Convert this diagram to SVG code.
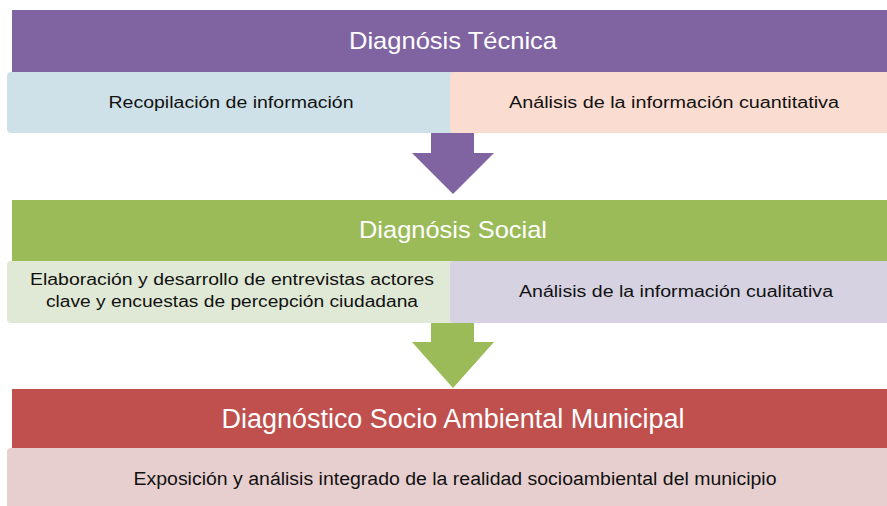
<svg xmlns="http://www.w3.org/2000/svg" width="887" height="506" viewBox="0 0 887 506">
<style>
.hdr{font-family:"Liberation Sans","Open Sans",sans-serif;font-size:24px;fill:#ffffff;text-anchor:middle}
.sub{font-family:"Liberation Sans","Open Sans",sans-serif;font-size:16px;fill:#111111;text-anchor:middle}
</style>
<rect width="887" height="506" fill="#ffffff"/>
<g id="tecnica">
<rect x="12" y="10" width="880" height="62" fill="#8064A2"/>
<text class="hdr" x="453" y="49" textLength="208" lengthAdjust="spacingAndGlyphs">Diagnósis Técnica</text>
</g>
<g id="recopilacion">
<rect x="7" y="72" width="452" height="61" rx="4" fill="#CFE1E8"/>
<text class="sub" x="231" y="108" textLength="245" lengthAdjust="spacingAndGlyphs">Recopilación de información</text>
</g>
<g id="analisis-cuant">
<rect x="450" y="72" width="445" height="61" rx="4" fill="#FBDCD0"/>
<text class="sub" x="674" y="108" textLength="330" lengthAdjust="spacingAndGlyphs">Análisis de la información cuantitativa</text>
</g>
<g id="social">
<rect x="12" y="200" width="880" height="61" fill="#9BBB59"/>
<text class="hdr" x="453" y="238" textLength="188" lengthAdjust="spacingAndGlyphs">Diagnósis Social</text>
</g>
<g id="entrevistas">
<rect x="7" y="261" width="452" height="62" rx="4" fill="#E0E9D5"/>
<text class="sub" x="232" y="285" textLength="404" lengthAdjust="spacingAndGlyphs">Elaboración y desarrollo de entrevistas actores</text>
<text class="sub" x="232" y="307" textLength="372" lengthAdjust="spacingAndGlyphs">clave y encuestas de percepción ciudadana</text>
</g>
<g id="analisis-cual">
<rect x="450" y="261" width="445" height="62" rx="4" fill="#D6D2E2"/>
<text class="sub" x="676" y="297" textLength="314" lengthAdjust="spacingAndGlyphs">Análisis de la información cualitativa</text>
</g>
<g id="municipal">
<rect x="12" y="389" width="880" height="59" fill="#C0504D"/>
<text class="hdr" x="453" y="428" style="font-size:27px" textLength="463" lengthAdjust="spacingAndGlyphs">Diagnóstico Socio Ambiental Municipal</text>
</g>
<g id="exposicion">
<rect x="7" y="448" width="888" height="62" rx="4" fill="#E7CFCF"/>
<text class="sub" x="455" y="485" style="font-size:18px" textLength="643" lengthAdjust="spacingAndGlyphs">Exposición y análisis integrado de la realidad socioambiental del municipio</text>
</g>
<g id="connectors">
<polygon points="431,133 474,133 474,153 494,153 453,194 412,153 431,153" fill="#8064A2"/>
<polygon points="431,323 474,323 474,342 494,342 453,388 412,342 431,342" fill="#9BBB59"/>
</g>
</svg>
